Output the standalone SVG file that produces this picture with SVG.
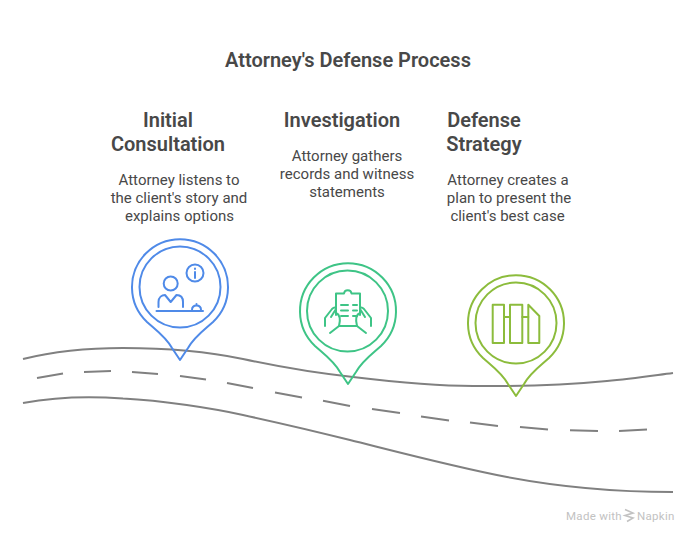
<svg xmlns="http://www.w3.org/2000/svg" width="696" height="540" viewBox="0 0 696 540">
<style>
text{font-family:Roboto,"Liberation Sans",sans-serif;fill:#484848;text-anchor:middle}
.title{font-size:20px;font-weight:600}
.head{font-size:20px;font-weight:600}
.body{font-size:15px}
.road{fill:none;stroke:#808080;stroke-width:2;stroke-linecap:butt}
.pin,.ic{fill:none;stroke-width:2;stroke-linejoin:round;stroke-linecap:round}
.blue{stroke:#4f8ae8}.green{stroke:#3ec486}.lime{stroke:#8cbc3c}
.wm{font-size:11.500px;fill:#c2c2c2;text-anchor:start;letter-spacing:.3px}
</style>
<defs>
<path id="pinshape" d="M0,73 L-8,61 C-14,50 -24,43 -33,35 A48,48 0 1 1 33,35 C24,43 14,50 8,61 Z"/>
</defs>
<rect width="696" height="540" fill="#fff"/>
<text class="title" x="348" y="67">Attorney's Defense Process</text>
<g id="road">
<path class="road" d="M23,359 C55,351 90,348 123,348 C165,348 205,351 243,359 C280,367 315,373 353,377 C395,382 435,386 473,386 C520,386.500 565,385 607,381 C630,379 650,376 673,373"/>
<path class="road" d="M37,378 L63,373.500 M84,372 L111,371 M132,372 L158,374 M180,376 L206,379.500 M227,383 L253,388 M275,392.500 L302,397.500 M323,400.700 L350,406 M372,409 L400,413 M421,416.500 L449,420.500 M470,422.500 L498,426 M520,427 L548,429.500 M570,430.300 L598,431 M619,431 L647,429.500"/>
<path class="road" d="M23,403 C55,397 90,396 123,398.500 C163,400.500 213,408.500 243,415 C283,423.700 315,431.200 350,440 C405,453.800 457,467.500 507,477 C560,487 620,492 673,492"/>
</g>
<g id="node-1">
<text class="head" x="168" y="127">Initial</text>
<text class="head" x="168" y="151">Consultation</text>
<text class="body" x="179" y="185">Attorney listens to</text>
<text class="body" x="179" y="203">the client's story and</text>
<text class="body" x="179.500" y="221">explains options</text>
<use href="#pinshape" x="180" y="287" fill="#fff" class="pin blue"/>
<circle class="pin blue" cx="180" cy="287" r="40.500"/>
<g class="ic blue">
<circle cx="170.700" cy="283.500" r="7"/>
<path d="M158.500,307 V302 C158.500,297 162,295 165,295 L170.700,302 L176.500,295 C180,295 183,297 183,302 V307"/>
<path d="M156.500,311 H203"/>
<path d="M192,310 C192,307 194,305.500 196.500,305.500 C199,305.500 201,307 201,310 M196.500,305.500 V304"/>
<circle cx="195" cy="273" r="8.500"/>
<path d="M195,272 V278 M195,268.500 V269"/>
</g>
</g>
<g id="node-2">
<text class="head" x="342" y="127">Investigation</text>
<text class="body" x="347" y="161">Attorney gathers</text>
<text class="body" x="347" y="179">records and witness</text>
<text class="body" x="347" y="197">statements</text>
<use href="#pinshape" x="348" y="311" fill="#fff" class="pin green"/>
<circle class="pin green" cx="347.500" cy="311" r="40.500"/>
<g class="ic green">
<path d="M336,315 V293.500 H344 C344.500,289 351,289 351.500,293.500 H360 V315 M339,326 H357"/>
<path d="M341,305 H348 M353,305 H357 M341,310.500 H348 M353,310.500 H357 M341,316 H348 M353,316 H357"/>
<path d="M325,326 V318 L332,309 C334,307 336,307 336,309 L331,317 M336,313 C341,315 340,322 339,326 L330,333"/>
<path d="M371,326 V318 L364,309 C362,307 360,307 360,309 L365,317 M360,313 C355,315 356,322 357,326 L366,333"/>
</g>
</g>
<g id="node-3">
<text class="head" x="484" y="127">Defense</text>
<text class="head" x="484" y="151">Strategy</text>
<text class="body" x="508" y="185">Attorney creates a</text>
<text class="body" x="509" y="203">plan to present the</text>
<text class="body" x="507.500" y="221">client's best case</text>
<use href="#pinshape" x="516" y="323" fill="#fff" class="pin lime"/>
<circle class="pin lime" cx="516" cy="323" r="40.500"/>
<g class="ic lime" stroke-linejoin="miter">
<path d="M492.700,304.700 H504 V343 H492.700 Z"/>
<path d="M510,304.700 H522.300 V343 H510 Z"/>
<path d="M528.300,304.700 L539.300,316 V343 H528.300 Z"/>
<path d="M504,317 H510 M522.300,317 H528.300"/>
</g>
</g>
<g id="watermark">
<text class="wm" x="566" y="520">Made with</text>
<path d="M625,509.500 L633,513 L625,515.500 L633,518 L627,521.500" fill="none" stroke="#c2c2c2" stroke-width="1.600"/>
<text class="wm" x="637" y="520">Napkin</text>
</g>
</svg>
